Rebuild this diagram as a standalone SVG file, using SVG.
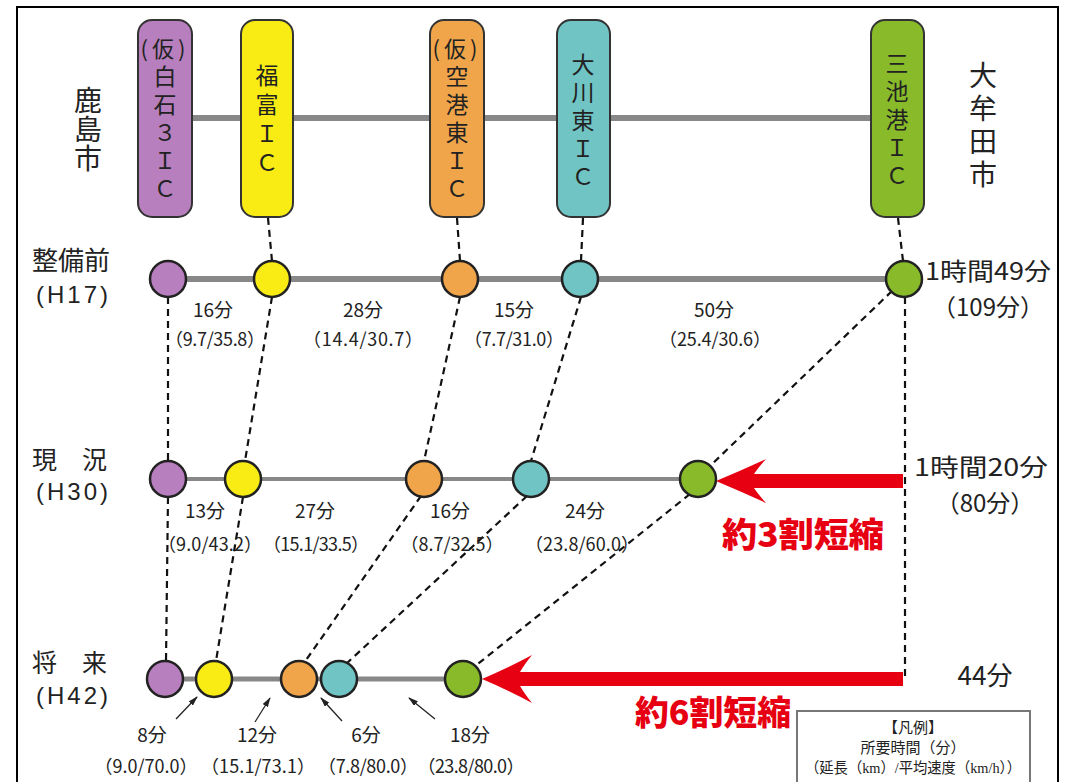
<svg xmlns="http://www.w3.org/2000/svg" width="1068" height="782" viewBox="0 0 1068 782">
<style>
text{font-family:"Noto Sans CJK JP","Liberation Sans",sans-serif;fill:#222}
.pc{font-size:22px;text-anchor:middle}
.pv{font-size:23px;writing-mode:vertical-rl}
.city{font-size:28px;writing-mode:vertical-rl}
.row{font-size:25px}
.sub{font-family:"Liberation Sans",sans-serif;font-size:24px;letter-spacing:3px}
.min{font-size:19px;text-anchor:middle}
.par{font-size:18px;text-anchor:middle}
.big{font-size:24px}
.red{font-size:34px;font-weight:900;fill:#e60012}
.lg{font-family:"Liberation Serif","Noto Sans CJK JP",serif;font-size:15px;text-anchor:middle}
.pill{stroke:#333;stroke-width:2}
.c{stroke:#222;stroke-width:2.5}
.pu{fill:#b77fbd}.ye{fill:#f8ec14}.or{fill:#f0a54b}.te{fill:#70c4c4}.gr{fill:#88ba2a}
.dash{stroke:#111;stroke-width:2.2;stroke-dasharray:7 5;fill:none}
.road{stroke:#888;fill:none}
.ptr{stroke:#222;stroke-width:1.3;fill:none;marker-end:url(#ah)}
.arr{fill:#e60012}
</style>
<defs>
<marker id="ah" viewBox="0 0 10 6" refX="9" refY="3" markerWidth="10" markerHeight="6" markerUnits="userSpaceOnUse" orient="auto">
<path d="M0,0 L10,3 L0,6 Z" fill="#222"/>
</marker>
</defs>
<rect x="17" y="7" width="1041" height="800" fill="#fff" stroke="#000" stroke-width="2"/>

<g id="connectors">
<line class="road" x1="192" y1="118" x2="871" y2="118" stroke-width="6"/>
<line class="road" x1="168" y1="279" x2="904" y2="279" stroke-width="6"/>
<line class="road" x1="168" y1="479" x2="698" y2="479" stroke-width="4"/>
<line class="road" x1="165" y1="679" x2="462" y2="679" stroke-width="5"/>
<line class="dash" x1="268" y1="218" x2="272" y2="261"/>
<line class="dash" x1="457" y1="218" x2="460" y2="261"/>
<line class="dash" x1="583" y1="218" x2="581" y2="261"/>
<line class="dash" x1="898" y1="218" x2="903" y2="261"/>
<line class="dash" x1="168" y1="297" x2="168" y2="461"/>
<line class="dash" x1="272" y1="297" x2="245" y2="461"/>
<line class="dash" x1="460" y1="297" x2="424" y2="461"/>
<line class="dash" x1="581" y1="297" x2="531" y2="461"/>
<line class="dash" x1="892" y1="291" x2="710" y2="466"/>
<line class="dash" x1="905" y1="297" x2="905" y2="680"/>
<line class="dash" x1="168" y1="497" x2="166" y2="661"/>
<line class="dash" x1="243" y1="497" x2="216" y2="661"/>
<line class="dash" x1="421" y1="496" x2="304" y2="663"/>
<line class="dash" x1="527" y1="496" x2="346" y2="664"/>
<line class="dash" x1="690" y1="494" x2="474" y2="667"/>
<line class="ptr" x1="176" y1="719" x2="197" y2="697"/>
<line class="ptr" x1="255" y1="722" x2="270" y2="698"/>
<line class="ptr" x1="342" y1="721" x2="321" y2="698"/>
<line class="ptr" x1="435" y1="719" x2="409" y2="698"/>
<path class="arr" d="M716,481 Q742,470 766,459 Q758,468 754,474 L903,474 L903,488 L754,488 Q758,494 766,503 Q742,492 716,481 Z"/>
<path class="arr" d="M482,679 Q508,668 532,655 Q524,665 520,672 L903,672 L903,686 L520,686 Q524,693 532,703 Q508,690 482,679 Z"/>
</g>

<g id="ic-shiroishi">
<rect class="pill pu" x="138" y="20" width="54" height="197" rx="14"/>
<text class="pc" x="165" y="57" style="letter-spacing:4px">(仮)</text>
<text class="pv" x="165" y="65" style="letter-spacing:5px">白石３ＩＣ</text>
</g>
<g id="ic-fukudomi">
<rect class="pill ye" x="241" y="20" width="52" height="197" rx="14"/>
<text class="pv" x="267" y="64" style="letter-spacing:6px">福富ＩＣ</text>
</g>
<g id="ic-kukohigashi">
<rect class="pill or" x="430" y="20" width="54" height="197" rx="14"/>
<text class="pc" x="457" y="57" style="letter-spacing:4px">(仮)</text>
<text class="pv" x="457" y="65" style="letter-spacing:5px">空港東ＩＣ</text>
</g>
<g id="ic-okawahigashi">
<rect class="pill te" x="557" y="20" width="53" height="197" rx="14"/>
<text class="pv" x="583" y="53" style="letter-spacing:5px">大川東ＩＣ</text>
</g>
<g id="ic-miikeko">
<rect class="pill gr" x="871" y="20" width="53" height="197" rx="14"/>
<text class="pv" x="897" y="52" style="letter-spacing:5px">三池港ＩＣ</text>
</g>

<g id="city-kashima">
<text class="city" x="88" y="86" style="letter-spacing:1px">鹿島市</text>
</g>
<g id="city-omuta">
<text class="city" x="983" y="61" style="letter-spacing:5px">大牟田市</text>
</g>

<g id="row-h17">
<text class="row" x="32" y="270" style="font-size:26px">整備前</text>
<text class="sub" x="36" y="303">(H17)</text>
<circle class="c pu" cx="168" cy="279" r="18"/>
<circle class="c ye" cx="272" cy="279" r="18"/>
<circle class="c or" cx="460" cy="279" r="18"/>
<circle class="c te" cx="580" cy="279" r="18"/>
<circle class="c gr" cx="904" cy="279" r="18"/>
<text class="min" x="213" y="317">16分</text>
<text class="par" x="215" y="346" textLength="100" lengthAdjust="spacing">（9.7/35.8）</text>
<text class="min" x="363" y="317">28分</text>
<text class="par" x="363" y="346" textLength="120" lengthAdjust="spacing">（14.4/30.7）</text>
<text class="min" x="514" y="317">15分</text>
<text class="par" x="514" y="346" textLength="100" lengthAdjust="spacing">（7.7/31.0）</text>
<text class="min" x="714" y="317">50分</text>
<text class="par" x="715" y="346" textLength="112" lengthAdjust="spacing">（25.4/30.6）</text>
<text class="big" x="925" y="280" textLength="126" lengthAdjust="spacingAndGlyphs">1時間49分</text>
<text class="big" x="988" y="316" text-anchor="middle">（109分）</text>
</g>

<g id="row-h30">
<text class="row" x="32" y="469">現　況</text>
<text class="sub" x="36" y="500">(H30)</text>
<circle class="c pu" cx="168" cy="479" r="18"/>
<circle class="c ye" cx="243" cy="479" r="18"/>
<circle class="c or" cx="424" cy="479" r="18"/>
<circle class="c te" cx="531" cy="479" r="18"/>
<circle class="c gr" cx="698" cy="479" r="18"/>
<text class="min" x="205" y="518">13分</text>
<text class="par" x="210" y="551" textLength="104" lengthAdjust="spacing">（9.0/43.2）</text>
<text class="min" x="315" y="518">27分</text>
<text class="par" x="316" y="551" textLength="106" lengthAdjust="spacing">（15.1/33.5）</text>
<text class="min" x="450" y="518">16分</text>
<text class="par" x="452" y="551" textLength="103" lengthAdjust="spacing">（8.7/32.5）</text>
<text class="min" x="585" y="518">24分</text>
<text class="par" x="582" y="551" textLength="114" lengthAdjust="spacing">（23.8/60.0）</text>
<text class="big" x="914" y="476" textLength="134" lengthAdjust="spacingAndGlyphs">1時間20分</text>
<text class="big" x="985" y="512" text-anchor="middle">（80分）</text>
<text class="red" x="722" y="547" textLength="162" lengthAdjust="spacingAndGlyphs">約3割短縮</text>
</g>

<g id="row-h42">
<text class="row" x="32" y="672">将　来</text>
<text class="sub" x="36" y="704">(H42)</text>
<circle class="c pu" cx="165" cy="679" r="18"/>
<circle class="c ye" cx="214" cy="679" r="18"/>
<circle class="c or" cx="299" cy="679" r="18"/>
<circle class="c te" cx="339" cy="679" r="18"/>
<circle class="c gr" cx="463" cy="679" r="18"/>
<text class="min" x="152" y="742">8分</text>
<text class="min" x="257" y="742">12分</text>
<text class="min" x="366" y="742">6分</text>
<text class="min" x="470" y="742">18分</text>
<text class="par" x="146" y="773" textLength="103" lengthAdjust="spacing">（9.0/70.0）</text>
<text class="par" x="258" y="773" textLength="114" lengthAdjust="spacing">（15.1/73.1）</text>
<text class="par" x="368" y="773" textLength="100" lengthAdjust="spacing">（7.8/80.0）</text>
<text class="par" x="471" y="773" textLength="107" lengthAdjust="spacing">（23.8/80.0）</text>
<text class="big" x="985" y="685" text-anchor="middle" style="font-size:26px">44分</text>
<text class="red" x="635" y="725" textLength="156" lengthAdjust="spacingAndGlyphs">約6割短縮</text>
</g>

<g id="legend">
<rect x="797" y="711" width="233" height="80" fill="#fff" stroke="#777" stroke-width="2"/>
<text class="lg" x="913" y="733">【凡例】</text>
<text class="lg" x="913" y="753">所要時間（分）</text>
<text class="lg" x="913" y="773" textLength="216" lengthAdjust="spacingAndGlyphs">（延長（km）/平均速度（km/h））</text>
</g>
</svg>
